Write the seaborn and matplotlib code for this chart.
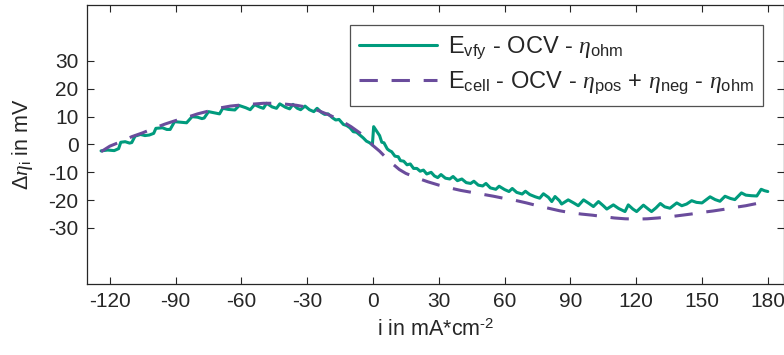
import numpy as np
import pandas as pd
import matplotlib
matplotlib.use("Agg")
import matplotlib.pyplot as plt
import seaborn as sns

# ---- data ----
green_x = [-124, -121, -118, -116, -115, -113, -111, -110, -108.5, -106, -104, -102, -100, -99,
           -96, -94, -92.5, -90.5, -88, -85, -82.5, -80, -78, -77, -75, -72, -70, -68.5, -66,
           -63, -61, -58, -56, -54, -51.5, -50, -48.5, -46, -44, -42.5, -40, -38, -36.5, -34.5,
           -33, -31, -29, -27, -25.5, -23.5, -22, -20.5, -18.5, -17, -15.5, -13.5, -12, -10.5,
           -9, -7.5, -6, -4.5, -3, -1.5, -0.3, 0.3, 1.5, 3, 4, 5, 6.5, 7.5, 8.5, 10, 11.5, 12.5,
           14, 15.5, 17, 18.5, 20, 21.5, 23, 24.5, 26.5, 28, 29.5, 31, 33, 35, 36.5, 38.5, 40.5,
           42.5, 44.5, 46, 48, 50, 51.5, 53.5, 56, 57.5, 60, 62, 63.5, 65.5, 68, 69.5, 71.5, 74,
           76, 77.7, 80, 81.5, 83, 85, 86, 89, 91.5, 93.6, 96, 98.5, 100.5, 102.8, 105, 106.6,
           109.6, 112, 114.9, 116.4, 118.5, 120.2, 123.3, 125.5, 127, 129, 131, 133, 135.4,
           138.5, 140.8, 143, 145.3, 147.5, 150, 153.7, 156, 158.2, 160.5, 163, 165, 168, 170,
           172.5, 175, 177, 178.5, 180]
green_y = [-2.3, -2.0, -2.2, -1.5, 0.8, 1.0, 0.5, 0.7, 3.0, 3.6, 3.2, 3.4, 4.0, 5.8,
           6.0, 5.4, 5.4, 8.2, 8.0, 7.8, 10.0, 9.8, 9.3, 9.5, 11.8, 11.3, 11.0, 13.0, 12.6,
           12.4, 14.0, 13.2, 12.5, 14.3, 13.4, 13.0, 14.8, 13.5, 13.0, 14.6, 13.4, 12.8, 14.4, 13.0,
           12.5, 13.8, 12.5, 11.8, 13.0, 11.5, 10.8, 11.0, 9.6, 8.8, 9.0, 7.2, 6.8, 6.0,
           4.6, 4.4, 3.4, 2.4, 1.2, 0.6, -0.2, 6.4, 5.0, 3.2, 0.8, 0.6, -1.6, -2.2, -2.6, -4.2, -4.4, -5.8,
           -6.0, -7.3, -7.0, -8.6, -8.6, -9.6, -9.2, -10.6, -10.0, -11.3, -11.9, -10.8, -12.1, -12.4, -11.5, -13.0, -12.4,
           -13.7, -14.0, -13.2, -14.6, -14.9, -14.0, -15.6, -16.1, -15.0, -16.2, -16.9, -15.8, -17.2, -17.8, -16.8, -18.0, -18.8,
           -19.3, -17.7, -19.0, -20.5, -18.7, -20.2, -21.4, -19.9, -21.0, -22.0, -19.9, -21.2, -22.3, -20.5, -22.0, -23.2,
           -21.7, -23.0, -24.1, -21.7, -23.2, -24.1, -21.8, -23.2, -24.1, -22.8, -21.2, -22.4, -22.9,
           -21.0, -22.0, -21.4, -20.2, -20.8, -21.0, -18.8, -19.8, -20.4, -18.6, -19.4, -19.8, -17.4, -18.2,
           -18.4, -18.5, -16.1, -16.6, -16.9]

purple_x = [-124, -120, -115, -110, -105, -100, -95, -90, -85, -80, -75, -70, -65, -60, -55, -50,
            -45, -40, -35, -30, -25, -20, -15, -10, -5, -2, 0, 3, 6, 9, 12, 15, 20, 25, 30, 35,
            40, 45, 50, 55, 60, 65, 70, 75, 80, 85, 90, 95, 100, 105, 110, 115, 120, 125, 130,
            135, 140, 145, 150, 155, 160, 165, 170, 175, 177]
purple_y = [-2.6, -0.6, 1.0, 2.8, 4.2, 5.8, 7.3, 8.6, 9.7, 11.0, 12.0, 13.1, 13.8, 14.2, 14.5, 14.8,
            14.8, 14.5, 14.1, 13.4, 12.2, 10.6, 8.8, 6.4, 3.6, 1.6, -0.4, -2.4, -4.8, -7.0, -9.0, -10.4,
            -12.0, -13.4, -14.6, -15.6, -16.5, -17.2, -17.9, -18.6, -19.4, -20.1, -21.0, -22.0, -22.9,
            -23.8, -24.5, -25.0, -25.4, -25.9, -26.4, -26.7, -26.8, -26.7, -26.4, -26.0, -25.5, -25.0,
            -24.4, -23.9, -23.3, -22.6, -22.0, -21.2, -20.9]

x_ticks = [-120, -90, -60, -30, 0, 30, 60, 90, 120, 150, 180]
y_ticks = [-30, -20, -10, 0, 10, 20, 30]

label_green = r'E$_{\rm vfy}$ - OCV - $\eta_{\rm ohm}$'
label_purple = r'E$_{\rm cell}$ - OCV - $\eta_{\rm pos}$ + $\eta_{\rm neg}$ - $\eta_{\rm ohm}$'

# ---- style ----
sns.set_style("ticks")
plt.rcParams['font.family'] = ['Liberation Sans', 'DejaVu Sans']
plt.rcParams['mathtext.fontset'] = 'custom'
plt.rcParams['mathtext.rm'] = 'Liberation Sans'
plt.rcParams['mathtext.it'] = 'Liberation Serif:italic'
plt.rcParams['mathtext.bf'] = 'Liberation Sans:bold'
plt.rcParams['axes.unicode_minus'] = False

text_col = '#262626'
green = '#009B7D'
purple = '#6A4C9C'

df_g = pd.DataFrame({'x': green_x, 'y': green_y})
df_p = pd.DataFrame({'x': purple_x, 'y': purple_y})

fig = plt.figure(figsize=(7.84, 3.55), dpi=100)
ax = fig.add_axes([0.111, 0.201, 0.889, 0.784])

sns.lineplot(data=df_g, x='x', y='y', ax=ax, color=green, lw=2.2,
             label=label_green, estimator=None, sort=False)
sns.lineplot(data=df_p, x='x', y='y', ax=ax, color=purple, lw=2.2,
             label=label_purple, estimator=None, sort=False)
ax.lines[1].set_dashes((6, 4.5))

ax.set_xlim(-130.4, 187.4)
ax.set_ylim(-50, 50)
ax.set_xticks(x_ticks)
ax.set_yticks(y_ticks)
ax.set_xticklabels([str(v) for v in x_ticks])
ax.set_yticklabels([str(v) for v in y_ticks])

ax.tick_params(direction='in', top=True, right=True, length=5, width=0.8,
               labelsize=15, colors=text_col, pad=6)
for s in ax.spines.values():
    s.set_visible(True)
    s.set_color(text_col)
    s.set_linewidth(0.9)

try:
    ax.set_xlabel(r'i in mA*cm$^{\text{-}2}$', fontsize=15.5, color=text_col, labelpad=6)
    fig.canvas.draw()
except Exception:
    ax.set_xlabel(r'i in mA*cm$^{\rm -2}$', fontsize=15.5, color=text_col, labelpad=6)
ax.set_ylabel(r'$\Delta\eta_{\rm i}$ in mV', fontsize=15.5, color=text_col, labelpad=10)

leg = ax.legend(loc='upper right', bbox_to_anchor=(0.970, 0.929), fontsize=17,
                frameon=True, fancybox=False, handlelength=3.3, handletextpad=0.45,
                borderpad=0.4, labelspacing=0.35, borderaxespad=0)
leg.get_frame().set_edgecolor(text_col)
leg.get_frame().set_linewidth(0.9)
for t in leg.get_texts():
    t.set_color(text_col)

fig.savefig('out.png', dpi=100)
